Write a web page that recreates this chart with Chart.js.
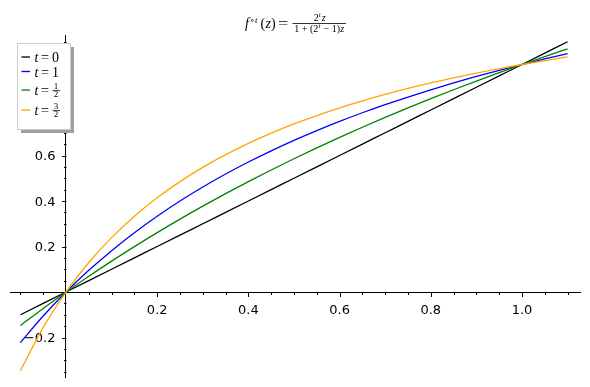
<!DOCTYPE html>
<html>
<head>
<meta charset="utf-8">
<script src="https://cdn.jsdelivr.net/npm/chart.js@4"></script>
<style>
  html, body { margin: 0; padding: 0; background: #fff; }
  #wrap { width: 590px; height: 387px; }
</style>
</head>
<body>
<div id="wrap"><canvas id="chart" width="590" height="387"></canvas></div>
<script>
// sample points along z
const zValues = [-0.1, -0.05, 0, 0.05, 0.1, 0.15, 0.2, 0.25, 0.3, 0.35, 0.4, 0.45, 0.5,
                 0.55, 0.6, 0.65, 0.7, 0.75, 0.8, 0.85, 0.9, 0.95, 1.0, 1.05, 1.1];

const t0Values = [-0.1, -0.05, 0, 0.05, 0.1, 0.15, 0.2, 0.25, 0.3, 0.35, 0.4, 0.45, 0.5,
                  0.55, 0.6, 0.65, 0.7, 0.75, 0.8, 0.85, 0.9, 0.95, 1.0, 1.05, 1.1];
const t1Values = [-0.2222, -0.1053, 0, 0.0952, 0.1818, 0.2609, 0.3333, 0.4, 0.4615, 0.5185,
                  0.5714, 0.6207, 0.6667, 0.7097, 0.75, 0.7879, 0.8235, 0.8571, 0.8889,
                  0.9189, 0.9474, 0.9744, 1.0, 1.0244, 1.0476];
const tHalfValues = [-0.1475, -0.0722, 0, 0.0693, 0.1358, 0.1997, 0.2612, 0.3204, 0.3774,
                     0.4323, 0.4853, 0.5364, 0.5858, 0.6335, 0.6796, 0.7242, 0.7674, 0.8093,
                     0.8498, 0.8891, 0.9272, 0.9641, 1.0, 1.0349, 1.0687];
const t3HalfValues = [-0.3461, -0.1557, 0, 0.1296, 0.2391, 0.3330, 0.4142, 0.4853, 0.5480,
                      0.6037, 0.6535, 0.6983, 0.7388, 0.7756, 0.8093, 0.8401, 0.8684, 0.8946,
                      0.9188, 0.9413, 0.9622, 0.9817, 1.0, 1.0171, 1.0332];

const xTickValues = [0.2, 0.4, 0.6, 0.8, 1.0];
const yTickValues = [-0.2, 0.2, 0.4, 0.6, 0.8, 1.0];

function points(ys) {
    return zValues.map((x, i) => ({ x: x, y: ys[i] }));
}

function lineSet(label, ys, color, order) {
    return {
        label: label,
        data: points(ys),
        borderColor: color,
        backgroundColor: color,
        borderWidth: 1.3,
        pointRadius: 0,
        showLine: true,
        cubicInterpolationMode: 'monotone',
        order: order
    };
}

const SANS = '"DejaVu Sans", sans-serif';
const SERIF = '"Liberation Serif", "DejaVu Serif", serif';

function fmt(v) {
    return (v < 0 ? '\u2212' : '') + Math.abs(v).toFixed(1);
}

// tick marks (major + minor) and tick labels for the axes crossing at the origin
const axisDecor = {
    id: 'axisDecor',
    beforeDatasetsDraw(chart) {
        const ctx = chart.ctx;
        const xs = chart.scales.x, ys = chart.scales.y;
        const x0 = Math.round(xs.getPixelForValue(0)) + 0.5;
        const y0 = Math.round(ys.getPixelForValue(0)) + 0.5;
        ctx.save();
        ctx.strokeStyle = '#000';
        ctx.lineWidth = 1;
        ctx.beginPath();
        for (let k = Math.ceil(xs.min / 0.05); k <= Math.floor(xs.max / 0.05); k++) {
            if (k === 0) continue;
            const px = Math.round(xs.getPixelForValue(k * 0.05)) + 0.5;
            const len = k % 4 === 0 ? 4.5 : 2.5;
            ctx.moveTo(px, y0);
            ctx.lineTo(px, y0 + len);
        }
        for (let k = Math.ceil(ys.min / 0.05); k <= Math.floor(ys.max / 0.05); k++) {
            if (k === 0) continue;
            const py = Math.round(ys.getPixelForValue(k * 0.05)) + 0.5;
            const len = k % 4 === 0 ? 4.5 : 2.5;
            ctx.moveTo(x0, py);
            ctx.lineTo(x0 - len, py);
        }
        ctx.stroke();

        ctx.fillStyle = '#000';
        ctx.font = '13px ' + SANS;
        ctx.textBaseline = 'alphabetic';
        ctx.textAlign = 'center';
        xTickValues.forEach(v => {
            ctx.fillText(fmt(v), xs.getPixelForValue(v), y0 + 21);
        });
        ctx.textAlign = 'right';
        yTickValues.forEach(v => {
            ctx.fillText(fmt(v), x0 - 11, ys.getPixelForValue(v) + 4.8);
        });
        ctx.restore();
    }
};

function drawAt(ctx, text, font, x, y, sx) {
    ctx.font = font;
    if (sx) {
        ctx.save();
        ctx.translate(x, y);
        ctx.scale(sx, 1);
        ctx.fillText(text, 0, 0);
        ctx.restore();
    } else {
        ctx.fillText(text, x, y);
    }
}

function drawRuns(ctx, runs, x, y) {
    let cx = x;
    runs.forEach(r => {
        ctx.font = r.font;
        ctx.fillText(r.text, cx, y + (r.dy || 0));
        cx += ctx.measureText(r.text).width + (r.gap || 0);
    });
    return cx - x;
}

function runsWidth(ctx, runs) {
    let w = 0;
    runs.forEach(r => {
        ctx.font = r.font;
        w += ctx.measureText(r.text).width + (r.gap || 0);
    });
    return w;
}

// title and legend drawn on top of everything
const overlay = {
    id: 'overlay',
    afterDraw(chart) {
        const ctx = chart.ctx;
        ctx.save();
        ctx.fillStyle = '#000';
        ctx.textBaseline = 'alphabetic';
        ctx.textAlign = 'left';

        // title
        const it14 = 'italic 14px ' + SERIF, rm14 = '14px ' + SERIF;
        drawAt(ctx, 'f', it14, 245, 28);
        drawAt(ctx, '\u2218', '9px ' + SERIF, 250, 22.5);
        drawAt(ctx, 't', 'italic 9px ' + SERIF, 255, 22.5);
        drawAt(ctx, '(', rm14, 260.5, 28);
        drawAt(ctx, 'z', it14, 265.5, 28);
        drawAt(ctx, ')', rm14, 271, 28);
        drawAt(ctx, '=', rm14, 278, 28, 1.3);

        const it10 = 'italic 10px ' + SERIF, rm10 = '10px ' + SERIF, sup = 'italic 7px ' + SERIF;
        const num = [
            { text: '2', font: rm10 },
            { text: 't', font: sup, dy: -4, gap: 1 },
            { text: 'z', font: it10 }
        ];
        const den = [
            { text: '1 + (2', font: rm10, gap: 0.3 },
            { text: 't', font: sup, dy: -4, gap: 0.5 },
            { text: ' \u2212 1)', font: rm10, gap: 0.3 },
            { text: 'z', font: it10 }
        ];
        const fx0 = 292.5, fx1 = 346;
        const fc = (fx0 + fx1) / 2;
        ctx.fillRect(fx0, 23, fx1 - fx0, 0.8);
        const nw = runsWidth(ctx, num), dw = runsWidth(ctx, den);
        drawRuns(ctx, num, fc - nw / 2 + 0.5, 21.3);
        drawRuns(ctx, den, fc - dw / 2, 32);

        // legend box with shadow
        const bx = 17.5, by = 43.5, bw = 53, bh = 86;
        ctx.fillStyle = '#a0a0a0';
        ctx.fillRect(bx + 3.5, by + 3.5, bw, bh);
        ctx.fillStyle = '#fff';
        ctx.fillRect(bx, by, bw, bh);
        ctx.strokeStyle = '#cccccc';
        ctx.lineWidth = 1;
        ctx.strokeRect(bx, by, bw, bh);

        const entries = chart.data.datasets;
        const rowY = [57, 71.5, 90, 110];
        const labels = [['0'], ['1'], ['1', '2'], ['3', '2']];
        entries.forEach((ds, i) => {
            const y = rowY[i];
            ctx.strokeStyle = ds.borderColor;
            ctx.lineWidth = 1.3;
            ctx.beginPath();
            ctx.moveTo(21.5, y);
            ctx.lineTo(30, y);
            ctx.stroke();
            ctx.fillStyle = '#000';
            drawAt(ctx, 't', it14, 34.5, y + 5);
            drawAt(ctx, '=', rm14, 40.8, y + 5, 1.05);
            const lab = labels[i];
            if (lab.length === 1) {
                drawAt(ctx, lab[0], rm14, 52, y + 5);
            } else {
                ctx.font = '9px ' + SERIF;
                ctx.textAlign = 'center';
                ctx.fillText(lab[0], 56, y - 1);
                ctx.fillText(lab[1], 56, y + 6.8);
                ctx.textAlign = 'left';
                ctx.fillRect(52.5, y + 0.3, 7.5, 0.8);
            }
        });
        ctx.restore();
    }
};

new Chart(document.getElementById('chart'), {
    type: 'scatter',
    data: {
        datasets: [
            lineSet('t = 0', t0Values, '#000000', 4),
            lineSet('t = 1', t1Values, '#0000ff', 3),
            lineSet('t = 1/2', tHalfValues, '#008000', 2),
            lineSet('t = 3/2', t3HalfValues, '#ffa500', 1)
        ]
    },
    options: {
        responsive: false,
        animation: false,
        layout: { padding: { left: 10, right: 10, top: 35, bottom: 10 } },
        plugins: {
            legend: { display: false },
            title: { display: false },
            tooltip: { enabled: false }
        },
        scales: {
            x: {
                type: 'linear',
                position: { y: 0 },
                min: -0.1228,
                max: 1.1272,
                grid: { display: false, drawTicks: false },
                border: { display: true, color: '#000', width: 1 },
                ticks: { display: false }
            },
            y: {
                type: 'linear',
                position: { x: 0 },
                min: -0.3736,
                max: 1.1297,
                grid: { display: false, drawTicks: false },
                border: { display: true, color: '#000', width: 1 },
                ticks: { display: false }
            }
        }
    },
    plugins: [axisDecor, overlay]
});
</script>
</body>
</html>
